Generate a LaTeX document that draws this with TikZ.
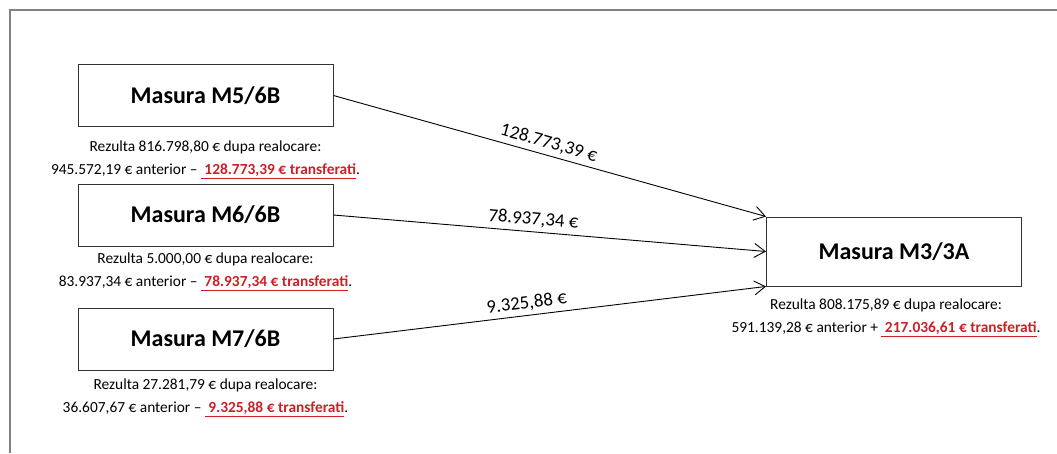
\documentclass[tikz,border=0pt]{standalone}
\usepackage{fontspec}
\setmainfont{Carlito}
\usetikzlibrary{arrows.meta, positioning}
\definecolor{transred}{RGB}{204,32,38}
\definecolor{framegray}{RGB}{130,130,130}
\tikzstyle{measure} = [rectangle, minimum width=255pt, minimum height=62pt, inner sep=0pt, text centered, draw=black!80, line width=0.9pt, font=\fontsize{24}{28}\selectfont\bfseries]
\tikzstyle{result} = [align=center, inner sep=0pt, font=\fontsize{15.4}{23}\selectfont]
\tikzstyle{amount} = [font=\fontsize{18.8}{22}\selectfont, sloped, above, inner sep=4pt]
\tikzstyle{arrow} = [line width=0.9pt, -{Straight Barb[length=11pt, width=14pt]}]
\newcommand{\transf}[1]{\textcolor{transred}{\bfseries\underline{\ #1 € transferati}}.}

\begin{document}
\begin{tikzpicture}[x=1pt, y=-1pt]
            \useasboundingbox (0,0) rectangle (1057,453);
            \draw [framegray, line width=1.6pt] (10,453) -- (10,10) -- (1057,10);

            \node (m5) [measure] at (205.5,95.5) {Masura M5/6B};
            \node (m6) [measure] at (205.5,215) {Masura M6/6B};
            \node (m7) [measure] at (205.5,339) {Masura M7/6B};
            \node (m3) [measure, minimum height=69pt] at (894,251.5) {Masura M3/3A};

            \node (r5) [result, below=14pt of m5] {Rezulta 816.798,80 € dupa realocare:\\945.572,19 € anterior – \transf{128.773,39}};
            \node (r6) [result, below=6pt of m6] {Rezulta 5.000,00 € dupa realocare:\\83.937,34 € anterior – \transf{78.937,34}};
            \node (r7) [result, below=8pt of m7] {Rezulta 27.281,79 € dupa realocare:\\36.607,67 € anterior – \transf{9.325,88}};
            \node (r3) [result, below=12pt of m3, xshift=-8pt] {Rezulta 808.175,89 € dupa realocare:\\591.139,28 € anterior + \transf{217.036,61}};

            \draw [arrow] (m5.east) -- node[amount, pos=0.49] {128.773,39 €} (m3.north west);
            \draw [arrow] (m6.east) -- node[amount, pos=0.46] {78.937,34 €} (m3.west);
            \draw [arrow] (m7.east) -- node[amount, pos=0.45] {9.325,88 €} (m3.south west);
        \end{tikzpicture}
\end{document}
